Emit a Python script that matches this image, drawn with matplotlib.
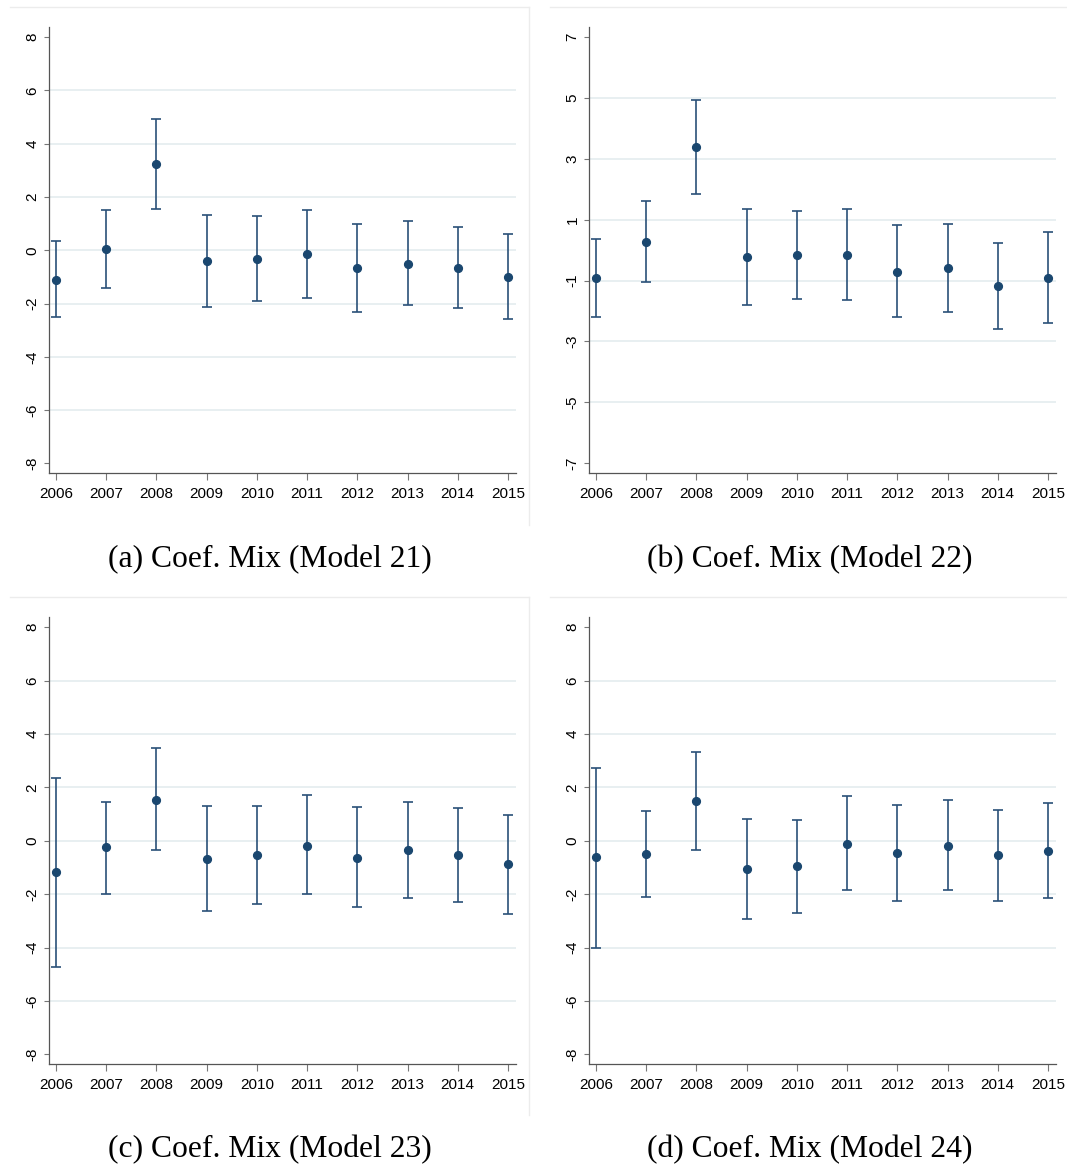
import matplotlib
matplotlib.use("Agg")
import matplotlib.pyplot as plt
from matplotlib.lines import Line2D

years = [2006, 2007, 2008, 2009, 2010, 2011, 2012, 2013, 2014, 2015]

# Model 21
coef_a = [-1.11, 0.06, 3.24, -0.39, -0.33, -0.14, -0.68, -0.51, -0.68, -1.00]
hi_a = [0.33, 1.51, 4.93, 1.34, 1.30, 1.51, 0.98, 1.08, 0.86, 0.60]
lo_a = [-2.50, -1.40, 1.55, -2.13, -1.89, -1.78, -2.33, -2.04, -2.17, -2.58]

# Model 22
coef_b = [-0.91, 0.27, 3.38, -0.24, -0.15, -0.15, -0.72, -0.59, -1.17, -0.91]
hi_b = [0.37, 1.62, 4.93, 1.34, 1.29, 1.36, 0.82, 0.85, 0.25, 0.58]
lo_b = [-2.21, -1.04, 1.85, -1.81, -1.59, -1.64, -2.21, -2.03, -2.59, -2.38]

# Model 23
coef_c = [-1.18, -0.25, 1.54, -0.70, -0.55, -0.19, -0.63, -0.36, -0.55, -0.88]
hi_c = [2.35, 1.44, 3.47, 1.29, 1.29, 1.70, 1.25, 1.44, 1.23, 0.96]
lo_c = [-4.73, -1.98, -0.35, -2.64, -2.38, -2.01, -2.49, -2.15, -2.31, -2.74]

# Model 24
coef_d = [-0.61, -0.51, 1.50, -1.06, -0.95, -0.11, -0.46, -0.19, -0.55, -0.40]
hi_d = [2.73, 1.10, 3.32, 0.81, 0.78, 1.66, 1.34, 1.51, 1.15, 1.41]
lo_d = [-4.00, -2.11, -0.33, -2.93, -2.71, -1.86, -2.24, -1.86, -2.24, -2.15]

captions = ["(a) Coef. Mix (Model 21)", "(b) Coef. Mix (Model 22)",
            "(c) Coef. Mix (Model 23)", "(d) Coef. Mix (Model 24)"]
yticks_all = [[-8, -6, -4, -2, 0, 2, 4, 6, 8], [-7, -5, -3, -1, 1, 3, 5, 7],
              [-8, -6, -4, -2, 0, 2, 4, 6, 8], [-8, -6, -4, -2, 0, 2, 4, 6, 8]]

W, H = 1067, 1167
fig = plt.figure(figsize=(W / 100, H / 100), dpi=100)
fig.patch.set_facecolor("white")

navy = "#1a476f"
spine_c = "#555555"
grid_c = "#e6eef0"
tickfont = dict(family=["Liberation Sans", "DejaVu Sans"], size=11)

panels = [
    (coef_a, lo_a, hi_a, 48.7, 27, 516, 473),
    (coef_b, lo_b, hi_b, 588.7, 27, 1056, 473),
    (coef_c, lo_c, hi_c, 48.7, 617, 516, 1064),
    (coef_d, lo_d, hi_d, 588.7, 617, 1056, 1064),
]
cap_pos = [(270, 560), (810, 560), (270, 1150), (810, 1150)]
box_pos = [(10, 7, 529, 525), (550, 7, 1069, 525), (10, 597, 529, 1115), (550, 597, 1069, 1115)]

for i, (coef, lo, hi, x0, y0, x1, y1) in enumerate(panels):
    bx0, by0, bx1, by1 = box_pos[i]
    fig.add_artist(Line2D([bx0 / W, bx1 / W], [1 - by0 / H, 1 - by0 / H], color="#ececec", lw=1.0))
    fig.add_artist(Line2D([bx1 / W, bx1 / W], [1 - by0 / H, 1 - by1 / H], color="#ececec", lw=1.0))

    ax = fig.add_axes([x0 / W, 1 - y1 / H, (x1 - x0) / W, (y1 - y0) / H])
    ticks = yticks_all[i]
    if ticks[-1] == 8:
        ax.set_ylim(-8.36, 8.38)
    else:
        ax.set_ylim(-7.32, 7.33)
    ax.set_xlim(2006 - 0.145, 2015 + 0.16)
    ax.set_yticks(ticks)
    ax.set_xticks(years)
    for t in ticks[1:-1]:
        ax.axhline(t, color=grid_c, lw=1.3, zorder=0)
    yerr = [[c - l for c, l in zip(coef, lo)], [h - c for c, h in zip(coef, hi)]]
    ax.errorbar(years, coef, yerr=yerr, fmt="o", color=navy, ecolor="#2a5078",
                elinewidth=1.2, capsize=3.3, capthick=1.2, markersize=5.6, zorder=3)
    for s in ["top", "right"]:
        ax.spines[s].set_visible(False)
    for s in ["left", "bottom"]:
        ax.spines[s].set_color(spine_c)
        ax.spines[s].set_linewidth(0.9)
    ax.tick_params(axis="x", length=5, width=0.8, color="#777777", pad=5)
    ax.tick_params(axis="y", length=3.6, width=0.8, color="#777777", pad=3)
    ax.set_xticklabels([str(y) for y in years], fontdict=tickfont)
    ax.set_yticklabels([str(t) for t in ticks], fontdict=tickfont, rotation=90, va="center")
    fig.text(cap_pos[i][0] / W, 1 - cap_pos[i][1] / H, captions[i],
             family=["Liberation Serif", "DejaVu Serif"], size=22.8,
             ha="center", va="center")

fig.savefig("out.png", dpi=100, facecolor="white")
